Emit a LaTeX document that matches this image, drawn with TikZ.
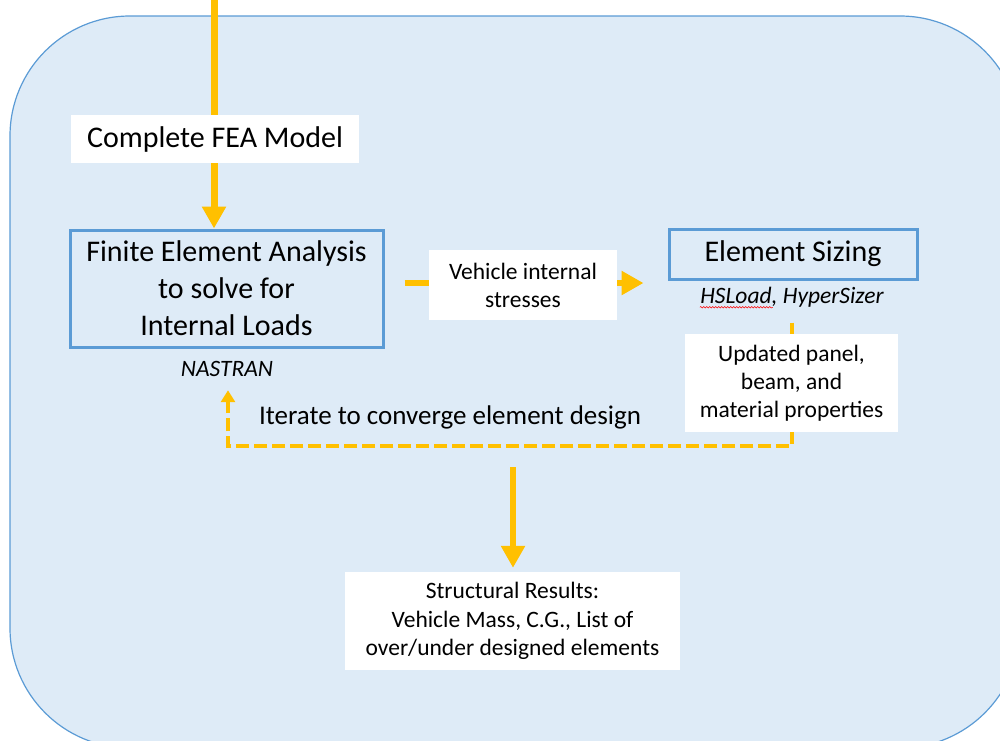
\documentclass[tikz,border=0pt]{standalone}
\usepackage{fontspec}
\setmainfont{Carlito}
\usetikzlibrary{arrows.meta,positioning,decorations.pathmorphing}
\definecolor{panel}{HTML}{DEEBF7}
\definecolor{edge}{HTML}{5B9BD5}
\definecolor{gold}{HTML}{FFC000}
\begin{document}
\begin{tikzpicture}[x=1pt,y=-1pt,
  box/.style={draw=edge,line width=3pt,align=center,inner sep=0pt},
  tag/.style={fill=white,align=center,inner sep=0pt},
  flow/.style={draw=gold,line width=7pt,-{Triangle[length=22pt,width=23pt]}},
  loop/.style={draw=gold,line width=4.5pt,dash pattern=on 13pt off 5pt,-{Triangle[length=12pt,width=14pt]}}]
\useasboundingbox (0,0) rectangle (1000,740);
\clip (0,0) rectangle (1000,740);
\draw[edge,fill=panel,line width=1.2pt,rounded corners=120pt] (10,16) rectangle (1020,748);
% boxes
\node[box,minimum width=313pt,minimum height=117pt,font=\fontsize{30}{37}\selectfont] (fea) at (226.5,288.5) {Finite Element Analysis\\to solve for\\Internal Loads};
\node[font=\fontsize{23.5}{26}\selectfont\itshape] (nastran) at (227,369) {NASTRAN};
\node[box,minimum width=248pt,minimum height=50pt,font=\fontsize{30}{34}\selectfont] (size) at (793,254) {Element Sizing};
\node[font=\fontsize{23.5}{26}\selectfont\itshape] (hyper) at (792,297) {HSLoad, HyperSizer};
\draw[red,line width=0.5pt,decorate,decoration={snake,amplitude=0.8pt,segment length=3pt}] ([xshift=3pt,yshift=-4pt]hyper.base west) -- ++(73,0);
\node[font=\fontsize{27}{30}\selectfont] (iter) at (450,417) {Iterate to converge element design};
% connectors
\coordinate (top) at (214,0);
\coordinate (turn) at (228,446);
\coordinate (drop) at (513,467);
\draw[flow] (top) -- (top |- fea.north);
\draw[flow,line width=6pt,shorten <=20pt,shorten >=24pt] ([yshift=5.5pt]fea.east) -- ([yshift=5.5pt]fea.east -| size.west);
\draw[loop] ([yshift=-12pt]hyper.south) |- (turn) -- ([yshift=-10pt]turn |- nastran.south);
% labels
\node[tag,minimum width=288pt,minimum height=48pt,font=\fontsize{30}{34}\selectfont] (model) at (215,139) {Complete FEA Model};
\node[tag,minimum width=188pt,minimum height=70pt,font=\fontsize{23.5}{28}\selectfont] (stress) at (523,285) {Vehicle internal\\stresses};
\node[tag,minimum width=213pt,minimum height=98pt,font=\fontsize{23.5}{28}\selectfont] (update) at (791.5,383) {Updated panel,\\beam, and\\material properties};
\node[tag,minimum width=335pt,minimum height=98pt,font=\fontsize{23.5}{28.5}\selectfont] (result) at (512.5,621) {Structural Results:\\Vehicle Mass, C.G., List of\\over/under designed elements};
\draw[flow,line width=6pt,shorten >=4pt] (drop) -- (drop |- result.north);
\end{tikzpicture}
\end{document}
